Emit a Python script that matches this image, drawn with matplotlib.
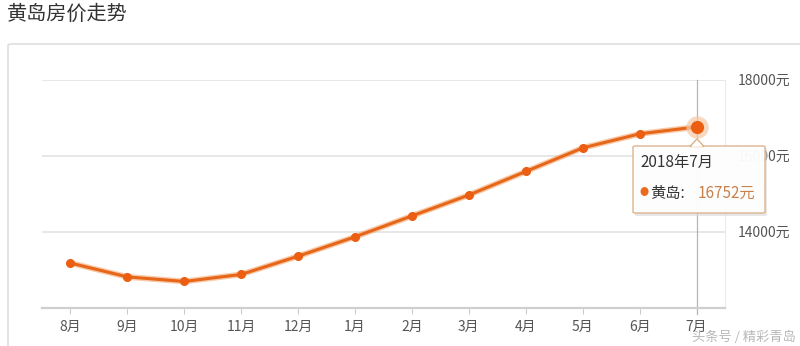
import matplotlib
matplotlib.use("Agg")
import matplotlib.pyplot as plt
from matplotlib.patches import FancyBboxPatch, Polygon

plt.rcParams['font.family'] = ['Noto Sans CJK SC', 'DejaVu Sans']

# data
months = ['8月', '9月', '10月', '11月', '12月', '1月', '2月', '3月', '4月', '5月', '6月', '7月']
prices = [13170, 12805, 12685, 12870, 13350, 13860, 14410, 14960, 15580, 16200, 16570, 16752]
y_ticks = [14000, 16000, 18000]
y_min, y_max = 12000, 18000
title = '黄岛房价走势'
series_name = '黄岛'
tip_date = '2018年7月'
watermark = '头条号 / 精彩青岛'

W, H = 800, 346
fig = plt.figure(figsize=(W / 100, H / 100), dpi=100)
fig.patch.set_facecolor('white')

def fx(px):
    return px / W

def fy(py):
    return 1 - py / H

# outer panel
panel = FancyBboxPatch((fx(8), fy(370)), fx(820), fy(44) - fy(370),
                       boxstyle="round,pad=0,rounding_size=0.004",
                       transform=fig.transFigure, facecolor='white',
                       edgecolor='#d9d9d9', lw=1.0, zorder=-5)
fig.patches.append(panel)

fig.text(fx(7), fy(14), title, fontsize=14.5, color='#333333', va='center', ha='left')

ax = fig.add_axes([fx(42), fy(307.5), fx(725) - fx(42), fy(79.5) - fy(307.5)])
ax.set_zorder(1)
ax.set_facecolor('none')
x = list(range(len(months)))

ax.set_xlim(-0.5, len(months) - 0.5)
ax.set_ylim(y_min, y_max)

for v in y_ticks:
    ax.axhline(v, color='#e3e3e3', lw=1.2, zorder=1)

ax.yaxis.tick_right()
ax.set_yticks(y_ticks)
ax.set_yticklabels([f'{v}元' for v in y_ticks])
ax.tick_params(axis='y', length=0, pad=9.5, labelsize=10, labelcolor='#555555')

ax.set_xticks(x)
ax.set_xticklabels(months)
ax.tick_params(axis='x', length=4, width=0.8, color='#cccccc', pad=5,
               labelsize=10, labelcolor='#555555')

for s in ['top', 'left']:
    ax.spines[s].set_visible(False)
ax.spines['right'].set_color('#ececec')
ax.spines['right'].set_linewidth(0.8)
ax.spines['bottom'].set_color('#cfcfcf')
ax.spines['bottom'].set_linewidth(1.6)

# hover cursor line
ax.axvline(x[-1], ymin=-0.03, ymax=1, color='#b5b5b5', lw=0.9, clip_on=False, zorder=2)

# series
ax.plot(x, prices, color='#f4a66c', lw=4.2, alpha=0.6, solid_capstyle='round', zorder=3)
ax.plot(x, prices, color='#e6661a', lw=2.2, marker='o', markersize=5.5,
        markerfacecolor='#ec5e12', markeredgecolor='#ec5e12', zorder=4)
ax.scatter([x[-1]], [prices[-1]], s=260, color='#f6c9a6', alpha=0.7, zorder=5, linewidths=0)
ax.scatter([x[-1]], [prices[-1]], s=90, color='#ec5e12', zorder=6, linewidths=0)

# tooltip
shadow = FancyBboxPatch((fx(635), fy(216)), fx(132), fy(148) - fy(216),
                        boxstyle="round,pad=0,rounding_size=0.003",
                        transform=fig.transFigure, facecolor='#d8d8d8',
                        edgecolor='none', alpha=0.6, zorder=9)
tip = FancyBboxPatch((fx(633), fy(213)), fx(132), fy(146) - fy(213),
                     boxstyle="round,pad=0,rounding_size=0.003",
                     transform=fig.transFigure, facecolor='white',
                     edgecolor='#dcae86', lw=1.0, alpha=0.93, zorder=10)
arrow = Polygon([[fx(690), fy(146.5)], [fx(697), fy(139)], [fx(704), fy(146.5)]],
                closed=True, transform=fig.transFigure, facecolor='white',
                edgecolor='#dcae86', lw=1.0, zorder=11)
cover = Polygon([[fx(691), fy(146.8)], [fx(697), fy(140.5)], [fx(703), fy(146.8)]],
                closed=True, transform=fig.transFigure, facecolor='white',
                edgecolor='none', zorder=12)
for p in (shadow, tip, arrow, cover):
    fig.patches.append(p)

fig.text(fx(640), fy(162), tip_date, fontsize=11, color='#333333', va='center', zorder=13)
fig.text(fx(639), fy(193), '●', fontsize=6.5, color='#ec6a1e', va='center', zorder=13)
fig.text(fx(650), fy(193), f'{series_name}:', fontsize=11, color='#333333', va='center', zorder=13)
fig.text(fx(698), fy(193), f'{prices[-1]}元', fontsize=11, color='#c9804a', va='center', zorder=13)

fig.text(fx(692), fy(337), watermark, fontsize=9.5, color='#b8b8b8', va='center', zorder=13)

fig.savefig('out.png', dpi=100)
